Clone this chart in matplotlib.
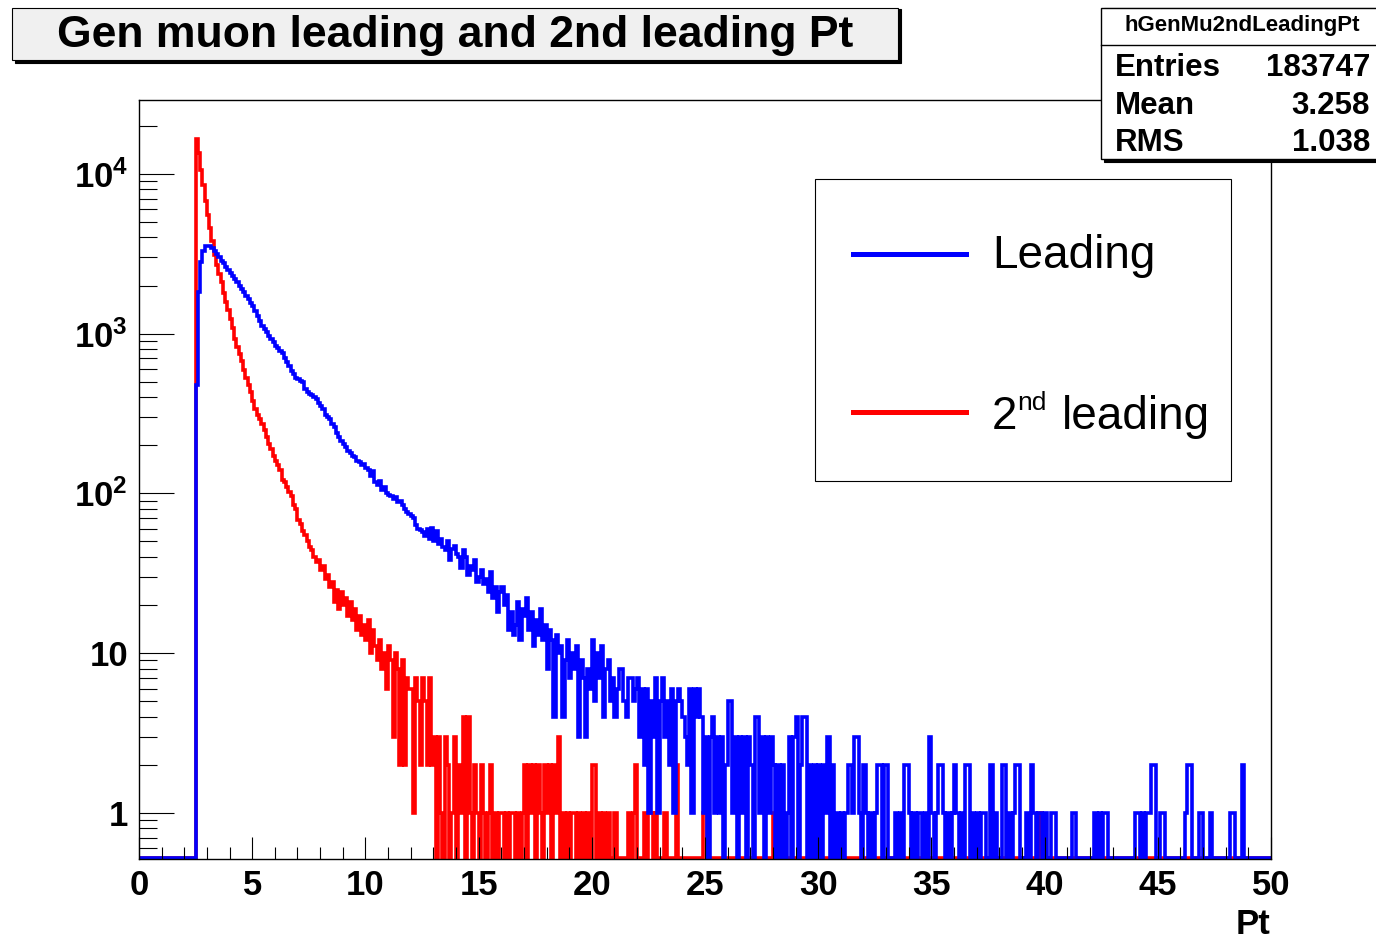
import numpy as np
import matplotlib
matplotlib.use("Agg")
import matplotlib.pyplot as plt
from matplotlib.patches import Rectangle
from matplotlib.lines import Line2D
from matplotlib.ticker import LogLocator, NullFormatter, MultipleLocator

plt.rcParams['font.family'] = ['Liberation Sans', 'DejaVu Sans']
plt.rcParams['mathtext.fontset'] = 'custom'
plt.rcParams['mathtext.rm'] = 'Liberation Sans'
plt.rcParams['mathtext.bf'] = 'Liberation Sans:bold'

# histogram binning: 500 bins from 0 to 50, filled bins start at Pt = 2.5
n_bins = 500
pt_min, pt_max = 0.0, 50.0
first_bin = 25

# leading muon Pt, one row per unit of Pt (first row is 2.5-2.9)
lead_counts = [
    480, 1820, 2800, 3300, 3550,
    3550, 3520, 3450, 3300, 3150, 3000, 2850, 2750, 2600, 2500,
    2380, 2300, 2200, 2100, 2000, 1900, 1820, 1720, 1650, 1560,
    1480, 1390, 1290, 1200, 1110, 1070, 1020, 970, 930, 880,
    840, 810, 780, 760, 700, 660, 630, 580, 560, 530,
    520, 505, 495, 450, 430, 420, 410, 400, 390, 370,
    350, 335, 310, 300, 290, 270, 262, 240, 225, 212,
    205, 195, 185, 180, 172, 168, 160, 158, 150, 152,
    145, 141, 128, 138, 118, 112, 120, 105, 110, 100,
    98, 96, 92, 95, 88, 90, 84, 80, 76, 74,
    72, 70, 63, 60, 59, 57, 54, 60, 52, 61,
    50, 58, 48, 52, 46, 44, 50, 38, 45, 47,
    42, 40, 34, 44, 40, 31, 35, 33, 38, 28,
    30, 33, 27, 29, 24, 32, 22, 26, 18, 24,
    26, 20, 23, 14, 18, 13, 15, 21, 12, 19,
    17, 22, 14, 18, 11, 16, 13, 19, 12, 15,
    8, 14, 12, 4, 13, 10, 11, 4, 9, 12,
    7, 10, 8, 11, 3, 9, 7, 3, 8, 6,
    12, 5, 10, 7, 11, 4, 8, 9, 5, 7,
    4, 6, 8, 8, 5, 4, 7, 7, 5, 6,
    7, 3, 6, 2, 6, 1, 5, 3, 7, 1,
    5, 7, 3, 5, 2, 6, 1, 5, 6, 5,
    4, 3, 2, 6, 1, 6, 4, 6, 4, 1,
    3, 0, 3, 4, 1, 3, 1, 3, 0, 2,
    5, 5, 1, 3, 0, 3, 1, 3, 0, 3,
    2, 0, 4, 4, 1, 3, 0, 3, 1, 3,
    2, 0, 2, 0, 2, 0, 1, 3, 0, 3,
    4, 0, 2, 4, 4, 0, 2, 0, 2, 0,
    2, 0, 2, 1, 3, 0, 2, 0, 1, 0,
    1, 0, 1, 2, 2, 1, 3, 3, 1, 0,
    2, 1, 0, 1, 0, 1, 2, 2, 0, 2,
    2, 0, 0, 0, 1, 0, 1, 0, 2, 2,
    1, 0, 1, 0, 1, 1, 0, 1, 0, 3,
    1, 0, 1, 2, 2, 1, 0, 1, 0, 1,
    2, 1, 0, 1, 0, 2, 2, 0, 1, 0,
    1, 0, 1, 1, 0, 0, 2, 0, 1, 0,
    0, 2, 2, 0, 1, 0, 1, 2, 2, 0,
    0, 0, 1, 0, 2, 1, 0, 1, 1, 0,
    1, 0, 0, 1, 1, 0, 0, 0, 0, 0,
    0, 0, 1, 1, 0, 0, 0, 0, 0, 0,
    0, 0, 1, 0, 1, 0, 1, 1, 0, 0,
    0, 0, 0, 0, 0, 0, 0, 0, 0, 0,
    1, 1, 0, 1, 0, 1, 1, 2, 2, 0,
    0, 1, 1, 0, 0, 0, 0, 0, 0, 0,
    0, 0, 1, 2, 2, 0, 0, 0, 1, 1,
    0, 0, 0, 1, 0, 0, 0, 0, 0, 0,
    0, 0, 1, 1, 0, 0, 0, 2, 0, 0,
]

# 2nd leading muon Pt, same layout (last filled bin at 41.8)
second_counts = [
    16500, 13500, 10500, 8500, 6800,
    5500, 4600, 3800, 3100, 2700, 2350, 2100, 1800, 1580, 1400,
    1240, 1080, 930, 830, 740, 670, 590, 530, 480, 430,
    380, 335, 310, 290, 270, 250, 225, 205, 190, 172,
    160, 150, 140, 122, 117, 110, 102, 96, 85, 80,
    68, 64, 58, 55, 50, 46, 44, 40, 37, 38,
    33, 35, 29, 31, 26, 28, 21, 25, 19, 24,
    20, 22, 17, 21, 16, 19, 14, 17, 13, 15,
    12, 16, 10, 14, 11, 9, 12, 8, 10, 6,
    11, 9, 3, 10, 8, 2, 9, 2, 7, 6,
    6, 1, 7, 5, 2, 7, 5, 2, 7, 2,
    3, 0, 3, 1, 0, 3, 2, 0, 1, 3,
    0, 2, 1, 4, 0, 4, 1, 0, 2, 1,
    0, 2, 1, 0, 1, 2, 0, 1, 0, 1,
    1, 0, 1, 0, 1, 1, 0, 1, 0, 1,
    2, 0, 2, 1, 2, 0, 2, 1, 0, 2,
    1, 2, 0, 2, 1, 3, 0, 1, 0, 1,
    0, 1, 1, 0, 1, 0, 1, 0, 1, 0,
    2, 2, 0, 1, 0, 1, 0, 1, 0, 0,
    1, 0, 0, 0, 0, 0, 1, 0, 1, 2,
    0, 0, 0, 1, 0, 1, 1, 0, 1, 0,
    0, 0, 1, 0, 0, 0, 0, 2, 0, 0,
    0, 0, 0, 0, 0, 0, 0, 0, 0, 1,
    1, 0, 0, 0, 0, 0, 0, 0, 0, 0,
    0, 0, 0, 0, 0, 0, 0, 0, 0, 0,
    0, 0, 0, 0, 0, 0, 0, 0, 0, 0,
    1, 0, 0, 0, 0, 0, 0, 0, 0, 0,
    0, 0, 0, 0, 0, 0, 0, 0, 1, 0,
    0, 0, 0, 0, 0, 0, 0, 0, 0, 0,
    0, 0, 0, 0, 0, 0, 0, 0, 0, 0,
    0, 0, 0, 0, 0, 0, 0, 0, 0, 0,
    0, 0, 0, 0, 0, 0, 0, 0, 0, 0,
    0, 0, 0, 0, 0, 0, 0, 0, 0, 0,
    0, 0, 0, 0, 0, 0, 0, 0, 0, 0,
    0, 0, 0, 0, 0, 0, 0, 0, 0, 0,
    0, 0, 0, 0, 0, 0, 0, 0, 0, 0,
    0, 0, 0, 0, 0, 0, 0, 0, 0, 0,
    0, 0, 0, 0, 0, 0, 0, 0, 1, 0,
]

y_ticks = [1, 10, 100, 1000, 10000]
y_tick_labels = ['1', '10', r'$\mathbf{10^{2}}$', r'$\mathbf{10^{3}}$', r'$\mathbf{10^{4}}$']
x_ticks = [0, 5, 10, 15, 20, 25, 30, 35, 40, 45, 50]

stats_name = "hGenMu2ndLeadingPt"
stats_rows = [("Entries", "183747"), ("Mean", "3.258"), ("RMS", "1.038")]

W, H = 1376, 939
ymin, ymax = 0.514, 29000


def fx(px):
    return px / W


def fy(py):
    return 1 - py / H


def full_hist(counts):
    h = np.zeros(n_bins)
    h[first_bin:first_bin + len(counts)] = counts
    # empty bins sit on the bottom of the frame, like ROOT draws them
    return np.where(h > 0, h, ymin * 1.02)


edges = np.linspace(pt_min, pt_max, n_bins + 1)

fig = plt.figure(figsize=(W / 100, H / 100), dpi=100)
ax = fig.add_axes([fx(139), fy(859), (1271 - 139) / W, (859 - 100) / H])

ax.stairs(full_hist(second_counts), edges, baseline=None, color='#ff0000', lw=2.6)
ax.stairs(full_hist(lead_counts), edges, baseline=None, color='#0000ff', lw=2.6)

ax.set_yscale('log')
ax.set_xlim(pt_min, pt_max)
ax.set_ylim(ymin, ymax)

ax.set_yticks(y_ticks, labels=y_tick_labels)
ax.yaxis.set_minor_locator(LogLocator(base=10, subs=range(2, 10)))
ax.yaxis.set_minor_formatter(NullFormatter())
ax.set_xticks(x_ticks)
ax.xaxis.set_minor_locator(MultipleLocator(1))

ax.tick_params(axis='x', which='major', direction='in', length=16, width=0.8, pad=7,
               labelsize=25, top=False)
ax.tick_params(axis='x', which='minor', direction='in', length=8.5, width=0.8, top=False)
ax.tick_params(axis='y', which='major', direction='in', length=25, width=0.8, pad=8,
               labelsize=25, right=False)
ax.tick_params(axis='y', which='minor', direction='in', length=13, width=0.8, right=False)
for lab in ax.get_xticklabels() + ax.get_yticklabels():
    lab.set_fontweight('bold')
for sp in ax.spines.values():
    sp.set_linewidth(1.0)

fig.text(fx(1270), fy(925), "Pt", ha='right', va='center', fontsize=25, fontweight='bold')

# title box with shadow
fig.patches.append(Rectangle((fx(15), fy(63)), (898 - 12) / W, (62 - 8) / H,
                             transform=fig.transFigure, facecolor='black', edgecolor='black',
                             lw=0.8, zorder=5))
fig.patches.append(Rectangle((fx(12), fy(60)), (898 - 12) / W, (60 - 8) / H,
                             transform=fig.transFigure, facecolor='#f0f0f0', edgecolor='black',
                             lw=0.8, zorder=6))
fig.text(fx(455), fy(35), "Gen muon leading and 2nd leading Pt", ha='center', va='center',
         fontsize=32, fontweight='bold', zorder=7)

# stats box
fig.patches.append(Rectangle((fx(1104), fy(162)), 300 / W, (162 - 8) / H,
                             transform=fig.transFigure, facecolor='black', edgecolor='black',
                             lw=0.8, zorder=5))
fig.patches.append(Rectangle((fx(1101), fy(159)), 300 / W, (159 - 8) / H,
                             transform=fig.transFigure, facecolor='white', edgecolor='black',
                             lw=1.0, zorder=6))
fig.lines.append(Line2D([fx(1101), 1.0], [fy(45), fy(45)], transform=fig.transFigure,
                        color='black', lw=1.0, zorder=7))
fig.text(fx(1242), fy(26), stats_name, ha='center', va='center', fontsize=16,
         fontweight='bold', zorder=8)
for i, (name, val) in enumerate(stats_rows):
    yy = 68 + i * 37.5
    fig.text(fx(1115), fy(yy), name, ha='left', va='center', fontsize=22.5,
             fontweight='bold', zorder=8)
    fig.text(fx(1370), fy(yy), val, ha='right', va='center', fontsize=22.5,
             fontweight='bold', zorder=8)

# legend
fig.patches.append(Rectangle((fx(815), fy(481)), (1231 - 815) / W, (481 - 179) / H,
                             transform=fig.transFigure, facecolor='white', edgecolor='black',
                             lw=0.8, zorder=5))
fig.lines.append(Line2D([fx(853), fx(966)], [fy(254), fy(254)], transform=fig.transFigure,
                        color='#0000ff', lw=3.6, zorder=6))
fig.lines.append(Line2D([fx(853), fx(966)], [fy(412), fy(412)], transform=fig.transFigure,
                        color='#ff0000', lw=3.6, zorder=6))
fig.text(fx(992), fy(268), "Leading", ha='left', va='baseline', fontsize=33, zorder=7)
fig.text(fx(992), fy(429), "2", ha='left', va='baseline', fontsize=33, zorder=7)
fig.text(fx(1017), fy(410), "nd", ha='left', va='baseline', fontsize=19, zorder=7)
fig.text(fx(1062), fy(429), "leading", ha='left', va='baseline', fontsize=33, zorder=7)

fig.savefig("out.png", dpi=100)
